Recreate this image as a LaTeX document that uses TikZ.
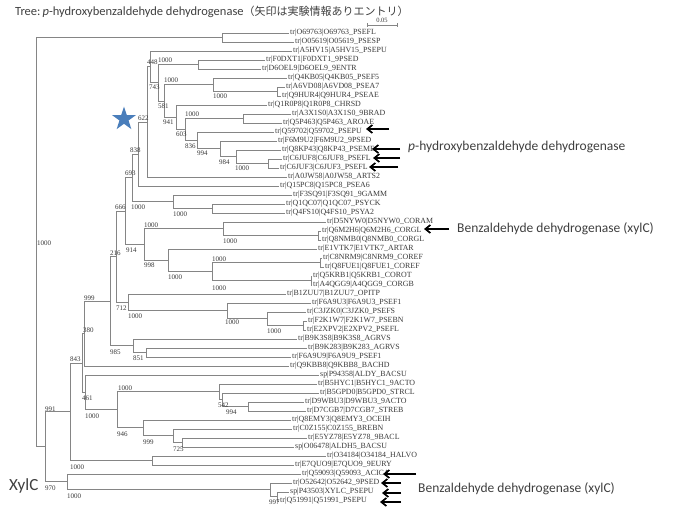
\documentclass[tikz,border=0pt]{standalone}
\usepackage{fontspec}
\setmainfont{Liberation Serif}
\newfontfamily\notefont{Carlito}
\newfontfamily\jpfont{Noto Sans CJK JP}
\usetikzlibrary{arrows.meta,calc,shapes.geometric}
\definecolor{TreeGray}{HTML}{858585}
\definecolor{LabelGray}{HTML}{3A3A3A}
\definecolor{NoteGray}{HTML}{404040}
\definecolor{StarBlue}{HTML}{4A7EBB}
\tikzset{
  treeEdge/.style={draw=TreeGray, line width=0.8pt},
  leafLabel/.style={anchor=west, inner sep=0pt, font=\fontsize{7.9}{8.2}\selectfont, text=LabelGray},
  bootValue/.style={anchor=west, inner sep=0pt, font=\fontsize{7}{7}\selectfont, text=LabelGray},
  hitArrow/.style={-{Straight Barb[length=5pt, width=8pt]}, line width=1.7pt, draw=black},
  noteText/.style={anchor=west, inner sep=0pt, font=\notefont\fontsize{13.5}{14}\selectfont, text=NoteGray},
  titleText/.style={anchor=west, inner sep=0pt, font=\notefont\fontsize{12.5}{13}\selectfont, text=NoteGray}
}
% leaf: name, label x, y, text
\newcommand{\treeLeaf}[4]{\coordinate (#1) at ({#2-1},{#3}); \node[leafLabel] (#1txt) at ({#2},{#3}) {#4};}
% clade: name, x, upper child, lower child
\newcommand{\treeClade}[4]{\path let \p1=(#3), \p2=(#4) in coordinate (#1) at (#2pt,{0.5*(\y1+\y2)});
  \draw[treeEdge] (#1) |- (#3) (#1) |- (#4);}

\begin{document}
\begin{tikzpicture}[x=1pt, y=-1pt]
\fill[white] (0,0) rectangle (700,525);
\useasboundingbox (0,0) rectangle (700,525);

\node[titleText] (title) at (15,12) {Tree:\,\textit{p}-hydroxybenzaldehyde dehydrogenase{\jpfont\fontsize{11}{12}\selectfont （矢印は実験情報ありエントリ）}};

% scale bar
\coordinate (sbL) at (367,25);
\coordinate (sbR) at (397,25);
\draw[treeEdge, line width=0.6pt] ($(sbL)+(0,-2)$) -- ($(sbL)+(0,2)$) (sbL) -- (sbR) ($(sbR)+(0,-2)$) -- ($(sbR)+(0,2)$);
\node[bootValue, anchor=south, font=\fontsize{6.5}{6.5}\selectfont] (sbText) at ($(sbL)!.5!(sbR)+(0,-2)$) {0.05};

% leaves
\foreach \lx/\ltxt [count=\i] in {
  290/tr|O69763|O69763\_PSEFL, 295/tr|O05619|O05619\_PSESP, 293/tr|A5HV15|A5HV15\_PSEPU,
  266/tr|F0DXT1|F0DXT1\_9PSED, 262/tr|D6OEL9|D6OEL9\_9ENTR, 288/tr|Q4KB05|Q4KB05\_PSEF5,
  286/tr|A6VD08|A6VD08\_PSEA7, 282/tr|Q9HUR4|Q9HUR4\_PSEAE, 268/tr|Q1R0P8|Q1R0P8\_CHRSD,
  292/tr|A3X1S0|A3X1S0\_9BRAD, 283/tr|Q5P463|Q5P463\_AROAE, 275/tr|Q59702|Q59702\_PSEPU,
  278/tr|F6M9U2|F6M9U2\_9PSED, 282/tr|Q8KP43|Q8KP43\_PSEME, 283/tr|C6JUF8|C6JUF8\_PSEFL,
  280/tr|C6JUF3|C6JUF3\_PSEFL, 288/tr|A0JW58|A0JW58\_ARTS2, 280/tr|Q15PC8|Q15PC8\_PSEA6,
  293/tr|F3SQ91|F3SQ91\_9GAMM, 286/tr|Q1QC07|Q1QC07\_PSYCK, 286/tr|Q4FS10|Q4FS10\_PSYA2,
  327/tr|D5NYW0|D5NYW0\_CORAM, 322/tr|Q6M2H6|Q6M2H6\_CORGL, 322/tr|Q8NMB0|Q8NMB0\_CORGL,
  318/tr|E1VTK7|E1VTK7\_ARTAR, 323/tr|C8NRM9|C8NRM9\_COREF, 325/tr|Q8FUE1|Q8FUE1\_COREF,
  313/tr|Q5KRB1|Q5KRB1\_COROT, 313/tr|A4QGG9|A4QGG9\_CORGB, 287/tr|B1ZUU7|B1ZUU7\_OPITP,
  312/tr|F6A9U3|F6A9U3\_PSEF1, 307/tr|C3JZK0|C3JZK0\_PSEFS, 308/tr|F2K1W7|F2K1W7\_PSEBN,
  307/tr|E2XPV2|E2XPV2\_PSEFL, 298/tr|B9K3S8|B9K3S8\_AGRVS, 308/tr|B9K283|B9K283\_AGRVS,
  292/tr|F6A9U9|F6A9U9\_PSEF1, 290/tr|Q9KBB8|Q9KBB8\_BACHD, 320/sp|P94358|ALDY\_BACSU,
  318/tr|B5HYC1|B5HYC1\_9ACTO, 320/tr|B5GPD0|B5GPD0\_STRCL, 305/tr|D9WBU3|D9WBU3\_9ACTO,
  307/tr|D7CGB7|D7CGB7\_STREB, 292/tr|Q8EMY3|Q8EMY3\_OCEIH, 293/tr|C0Z155|C0Z155\_BREBN,
  308/tr|E5YZ78|E5YZ78\_9BACL, 295/sp|O06478|ALDH5\_BACSU, 327/tr|O34184|O34184\_HALVO,
  295/tr|E7QUO9|E7QUO9\_9EURY, 302/tr|Q59093|Q59093\_ACICA, 293/tr|O52642|O52642\_9PSED,
  290/sp|P43503|XYLC\_PSEPU, 280/tr|Q51991|Q51991\_PSEPU} {
  \treeLeaf{l\i}{\lx}{33+9*(\i-1)}{\ltxt}
}

% clades
\treeClade{nd1}{277}{l7}{l8}
\treeClade{nd2}{213}{l6}{nd1}
\treeClade{nd3}{198}{l4}{l5}
\treeClade{nd4}{268}{l15}{l16}
\treeClade{nd5}{236}{l14}{nd4}
\treeClade{nd6}{220}{l13}{nd5}
\treeClade{nd7}{197}{l12}{nd6}
\treeClade{nd8}{243}{l10}{l11}
\treeClade{nd9}{185}{nd8}{nd7}
\treeClade{nd10}{176}{l9}{nd9}
\treeClade{nd11}{164}{nd2}{nd10}
\treeClade{nd12}{158}{nd3}{nd11}
\treeClade{nd13}{150}{l3}{nd12}
\treeClade{nd14}{147}{nd13}{l17}
\treeClade{nd15}{138}{nd14}{l18}
\treeClade{nd16}{212}{l20}{l21}
\treeClade{nd17}{173}{l19}{nd16}
\treeClade{nd18}{132}{nd15}{nd17}
\treeClade{nd19}{318}{l23}{l24}
\treeClade{nd20}{223}{l22}{nd19}
\treeClade{nd21}{320}{l26}{l27}
\treeClade{nd22}{311}{l28}{l29}
\treeClade{nd23}{212}{nd21}{nd22}
\treeClade{nd24}{168}{l25}{nd23}
\treeClade{nd25}{144}{nd20}{nd24}
\treeClade{nd26}{125}{nd18}{nd25}
\treeClade{nd27}{303}{l33}{l34}
\treeClade{nd28}{267}{l32}{nd27}
\treeClade{nd29}{227}{l31}{nd28}
\treeClade{nd30}{128}{l30}{nd29}
\treeClade{nd31}{116}{nd26}{nd30}
\treeClade{nd32}{146}{l36}{l37}
\treeClade{nd33}{133}{l35}{nd32}
\treeClade{nd34}{110}{nd31}{nd33}
\treeClade{nd35}{84}{nd34}{l38}
\treeClade{nd36}{248}{l42}{l43}
\treeClade{nd37}{222}{l41}{nd36}
\treeClade{nd38}{219}{l40}{nd37}
\treeClade{nd39}{182}{l46}{l47}
\treeClade{nd40}{173}{l45}{nd39}
\treeClade{nd41}{143}{l44}{nd40}
\treeClade{nd42}{117}{nd38}{nd41}
\treeClade{nd43}{85}{l39}{nd42}
\treeClade{nd44}{82}{nd35}{nd43}
\treeClade{nd45}{152}{l48}{l49}
\treeClade{nd46}{70}{nd44}{nd45}
\treeClade{nd47}{277}{l52}{l53}
\treeClade{nd48}{270}{l51}{nd47}
\treeClade{nd49}{67}{l50}{nd48}
\treeClade{nd50}{45}{nd46}{nd49}
\treeClade{nd51}{222}{l1}{l2}
\treeClade{root}{36}{nd51}{nd50}

% bootstrap values
\foreach \bx/\by/\bv [count=\k] in {
  147/62/448, 158/60/1000, 149/87/743, 164/80/1000, 213/96/1000, 158/106/581,
  163/122/941, 185/114/1000, 176/134/603, 185/146/836, 197/153/994, 219/162/984,
  235/168/1000, 138/118/622,
  130/150/838, 125/173/693, 115/207/666, 131/207/1000, 173/214/1000, 144/225/1000,
  223/241/1000, 126/250/914, 144/265/998, 168/277/1000, 212/259/1000, 212/288/1000,
  37/243/1000, 110/253/216, 116/308/712, 128/316/1000, 225/322/1000, 267/331/1000,
  84/298/999, 83/330/380, 110/352/985, 133/358/851, 70/359/843, 82/398/461,
  118/388/1000, 85/416/1000, 218/405/542, 226/412/994, 117/434/946, 143/442/999,
  173/449/725, 45/409/991, 70/467/1000, 45/488/970, 67/496/1000, 269/502/997} {
  \node[bootValue] (bs\k) at (\bx,\by) {\bv};
}

\node[star, star points=5, star point ratio=2.618, minimum size=25pt, inner sep=0pt, fill=StarBlue] (mark) at (124,119) {};

% arrows to entries with experimental data
\foreach \tx/\hx/\ay [count=\k] in {
  389/366/129, 400/372/149, 400/373/158, 398/369/167, 449/424/229,
  416/383/474, 401/381/483, 401/382/493, 401/380/502} {
  \coordinate (tail\k) at (\tx,\ay);
  \coordinate (head\k) at (\hx,\ay);
  \draw[hitArrow] (tail\k) -- (head\k);
}

\node[noteText] (noteHOB) at (408,147) {\textit{p}-hydroxybenzaldehyde dehydrogenase};
\node[noteText] (noteXylA) at (457,229) {Benzaldehyde dehydrogenase (xylC)};
\node[noteText] (noteXylB) at (418,489) {Benzaldehyde dehydrogenase\ (xylC)};
\node[noteText, font=\notefont\fontsize{17}{17}\selectfont] (xylc) at (9,486) {XylC};
\end{tikzpicture}
\end{document}
